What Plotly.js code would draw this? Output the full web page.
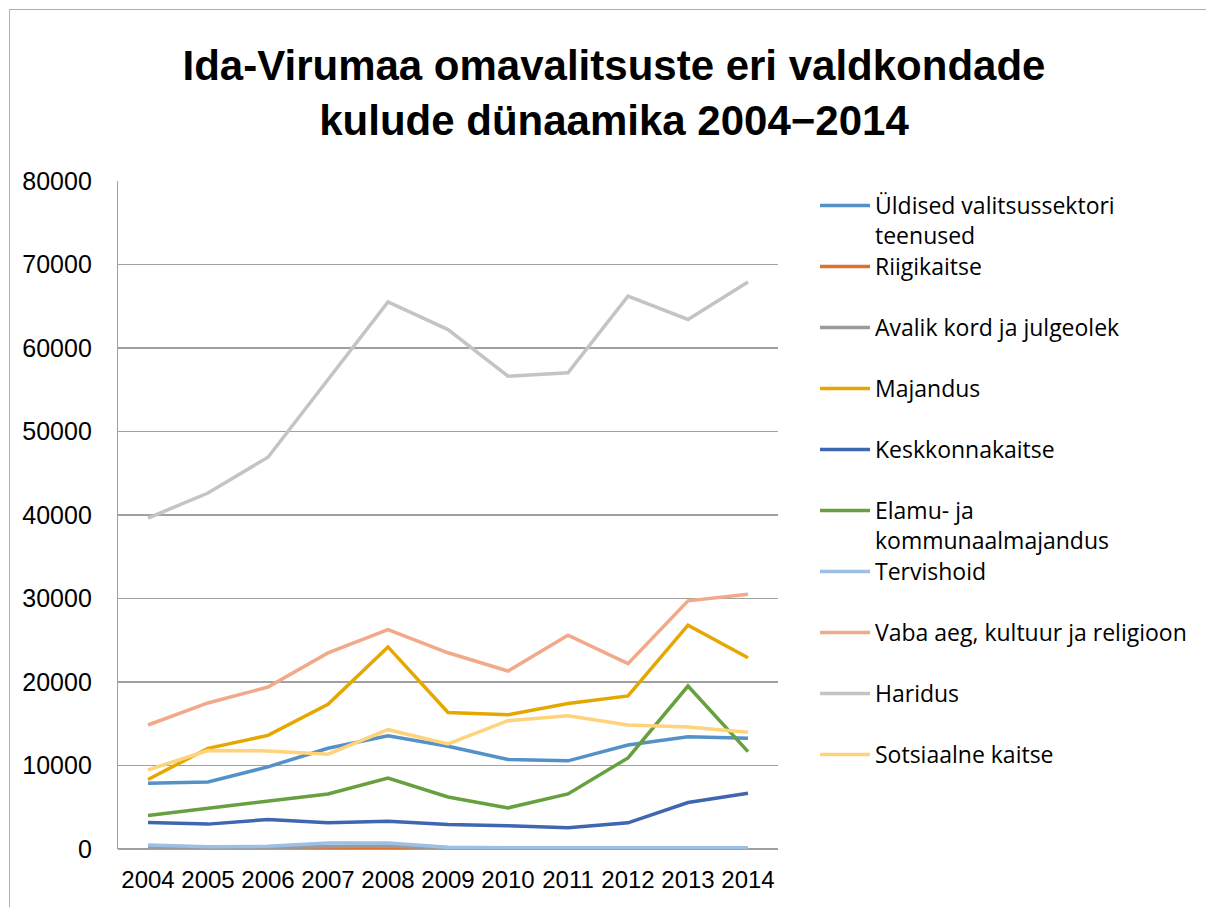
<!DOCTYPE html>
<html>
<head>
<meta charset="utf-8">
<script src="https://cdn.plot.ly/plotly-3.0.1.min.js"></script>
<style>
  html, body { margin: 0; padding: 0; background: #fff; }
  #wrap { position: relative; width: 1206px; height: 907px; overflow: hidden; }
  #chart { position: absolute; left: 0; top: 0; width: 1206px; height: 907px; }
  #frame { position: absolute; left: 9px; top: 9px; width: 1300px; height: 1000px;
           border-left: 1px solid #b0b0b0; border-top: 1px solid #b0b0b0; pointer-events: none; }
</style>
</head>
<body>
<div id="wrap">
  <div id="chart"></div>
  <div id="frame"></div>
</div>
<script>
const years = ["2004","2005","2006","2007","2008","2009","2010","2011","2012","2013","2014"];

const yldised     = [7860, 8020, 9840, 12060, 13570, 12300, 10710, 10560, 12460, 13450, 13250];
const riigikaitse = [20, 20, 20, 20, 20, 20, 20, 20, 20, 20, 20];
const avalikKord  = [200, 150, 150, 300, 350, 120, 80, 80, 80, 80, 80];
const majandus    = [8330, 12060, 13610, 17340, 24200, 16350, 16070, 17420, 18330, 26800, 22900];
const keskkond    = [3170, 2980, 3530, 3130, 3330, 2940, 2780, 2540, 3130, 5560, 6670];
const elamu       = [4010, 4840, 5670, 6590, 8490, 6230, 4920, 6590, 10910, 19520, 11670];
const tervishoid  = [480, 280, 320, 710, 710, 200, 160, 160, 200, 240, 160];
const vabaAeg     = [14850, 17490, 19400, 23480, 26280, 23500, 21320, 25600, 22200, 29720, 30520];
const haridus     = [39640, 42630, 46920, 56250, 65510, 62200, 56630, 57030, 66210, 63420, 67900];
const sotsiaalne  = [9480, 11790, 11750, 11350, 14290, 12580, 15360, 15950, 14840, 14600, 13970];

const seriesNames = [
  "Üldised valitsussektori<br>teenused",
  "Riigikaitse",
  "Avalik kord ja julgeolek",
  "Majandus",
  "Keskkonnakaitse",
  "Elamu- ja<br>kommunaalmajandus",
  "Tervishoid",
  "Vaba aeg, kultuur ja religioon",
  "Haridus",
  "Sotsiaalne kaitse"
];
const seriesValues = [yldised, riigikaitse, avalikKord, majandus, keskkond, elamu, tervishoid, vabaAeg, haridus, sotsiaalne];
const seriesColors = ["#5591C9", "#E0712C", "#9A9A9A", "#E5A800", "#3F66B0", "#66A03F", "#9DBFE3", "#F2A98A", "#C4C4C4", "#FFD37A"];

const plotTop = 181, plotBottom = 849;
const legendCenters = [206, 267, 328, 389, 450, 511, 572, 633, 694, 755];

const traces = seriesNames.map((name, i) => ({
  type: "scatter",
  mode: "lines",
  name: name,
  x: years,
  y: seriesValues[i],
  line: { color: seriesColors[i], width: 3.5 },
  legend: i === 0 ? "legend" : "legend" + (i + 1),
  hoverinfo: "x+y+name"
}));

const layout = {
  width: 1206,
  height: 907,
  paper_bgcolor: "#ffffff",
  plot_bgcolor: "#ffffff",
  margin: { l: 118, r: 428, t: plotTop, b: 907 - plotBottom, pad: 0 },
  title: {
    text: "<b>Ida-Virumaa omavalitsuste eri valdkondade<br>kulude dünaamika 2004−2014</b>",
    font: { family: "Liberation Sans, Arial, sans-serif", size: 42, color: "#000" },
    x: 614 / 1206,
    xanchor: "center",
    xref: "container",
    yref: "container",
    y: 1 - 80 / 907,
    yanchor: "top"
  },
  xaxis: {
    type: "category",
    range: [-0.5, 10.5],
    showgrid: false,
    showline: false,
    zeroline: false,
    ticks: "",
    ticklabelstandoff: 14,
    tickfont: { family: "Liberation Sans, Arial, sans-serif", size: 24, color: "#000" }
  },
  yaxis: {
    range: [0, 80000],
    dtick: 10000,
    tick0: 0,
    showgrid: true,
    gridcolor: "#a0a0a0",
    gridwidth: 1.2,
    showline: true,
    linecolor: "#a0a0a0",
    linewidth: 1.2,
    zeroline: true,
    zerolinecolor: "#a0a0a0",
    zerolinewidth: 1.2,
    ticks: "",
    ticklabelstandoff: 20,
    tickformat: "d",
    tickfont: { family: "Liberation Sans, Arial, sans-serif", size: 25, color: "#000" }
  },
  showlegend: true
};

seriesNames.forEach((name, i) => {
  const key = i === 0 ? "legend" : "legend" + (i + 1);
  const topPx = legendCenters[i] - 22;
  layout[key] = {
    x: (815 - 118) / 660,
    xanchor: "left",
    y: (plotBottom - topPx) / (plotBottom - plotTop),
    yanchor: "top",
    valign: "top",
    bgcolor: "rgba(0,0,0,0)",
    borderwidth: 0,
    itemwidth: 50,
    font: { family: "Open Sans, DejaVu Sans, sans-serif", size: 23, color: "#000" }
  };
});

Plotly.newPlot("chart", traces, layout, { displayModeBar: false, staticPlot: true });
</script>
</body>
</html>
